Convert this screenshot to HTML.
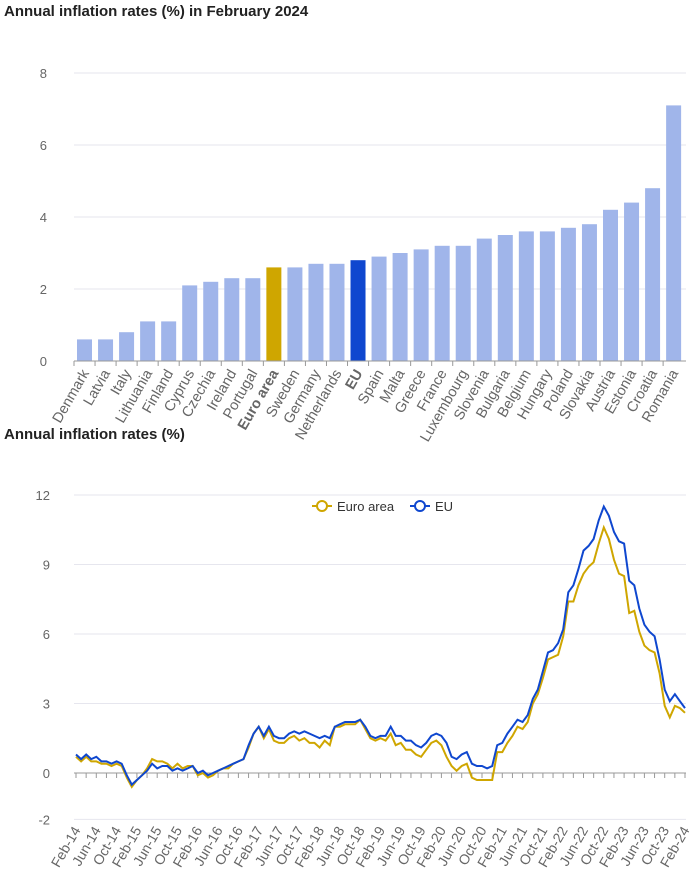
<!DOCTYPE html>
<html><head><meta charset="utf-8"><style>
body{margin:0;background:#fff;width:700px;height:874px;overflow:hidden;font-family:"Liberation Sans",Arial,sans-serif}
</style></head><body>
<svg id="s" width="700" height="874" xmlns="http://www.w3.org/2000/svg" font-family="Liberation Sans, Arial, sans-serif">
<text x="4" y="16" font-size="15" font-weight="bold" fill="#222">Annual inflation rates (%) in February 2024</text>
<text x="4" y="439" font-size="15" font-weight="bold" fill="#222">Annual inflation rates (%)</text>
</svg>
<script>
const s=document.getElementById('s');const NS='http://www.w3.org/2000/svg';
function el(t,a,txt){const e=document.createElementNS(NS,t);for(const k in a)e.setAttribute(k,a[k]);if(txt!==undefined)e.textContent=txt;s.appendChild(e);return e;}
const names=["Denmark","Latvia","Italy","Lithuania","Finland","Cyprus","Czechia","Ireland","Portugal","Euro area","Sweden","Germany","Netherlands","EU","Spain","Malta","Greece","France","Luxembourg","Slovenia","Bulgaria","Belgium","Hungary","Poland","Slovakia","Austria","Estonia","Croatia","Romania"];
const vals=[0.6,0.6,0.8,1.1,1.1,2.1,2.2,2.3,2.3,2.6,2.6,2.7,2.7,2.8,2.9,3.0,3.1,3.2,3.2,3.4,3.5,3.6,3.6,3.7,3.8,4.2,4.4,4.8,7.1];
const y0=361,k=36;
for(let v=0;v<=8;v+=2){const y=y0-v*k;
 if(v>0)el('line',{x1:74,x2:686,y1:y,y2:y,stroke:'#e6e6ee','stroke-width':1});
 el('text',{x:47,y:y+5,'font-size':13,fill:'#666','text-anchor':'end'},v);}
vals.forEach((v,i)=>{const cx=84.5+i*21.04;
 const c=names[i]=="Euro area"?'#cfa600':names[i]=="EU"?'#0f47cf':'#a0b5ea';
 el('rect',{x:cx-7.5,y:y0-v*k,width:15,height:v*k,fill:c});
 el('line',{x1:cx-10.5,x2:cx-10.5,y1:y0,y2:y0+5,stroke:'#999'});
 const b=(names[i]=="Euro area"||names[i]=="EU");
 el('text',{x:cx+5,y:y0+12,'font-size':14.5,fill:'#666','font-weight':b?'bold':'normal','text-anchor':'end',transform:`rotate(-60 ${cx+5} ${y0+12})`},names[i]);
});
el('line',{x1:74,x2:686,y1:y0,y2:y0,stroke:'#999','stroke-width':1});
const Z=773,u=23.17,X0=76,dx=609/120;
[-2,0,3,6,9,12].forEach(v=>{const y=Z-v*u;
 if(v!==0)el('line',{x1:74,x2:686,y1:y,y2:y,stroke:'#e6e6ee'});
 el('text',{x:50,y:y+5,'font-size':13,fill:'#666','text-anchor':'end'},v);});
el('line',{x1:74,x2:686,y1:Z,y2:Z,stroke:'#999'});
for(let m=0;m<=120;m+=2){const x=X0+m*dx;el('line',{x1:x,x2:x,y1:Z,y2:Z+5,stroke:'#999'});}
const mn=["Feb","Jun","Oct"];
for(let m=0;m<=120;m+=4){const x=X0+m*dx;const yr=14+Math.floor((m+1)/12);
 el('text',{x:x+5,y:Z+57,'font-size':14,fill:'#666','text-anchor':'end',transform:`rotate(-60 ${x+5} ${Z+57})`},mn[(m/4)%3]+"-"+yr);}
const ea=[0.7,0.5,0.7,0.5,0.5,0.4,0.4,0.3,0.4,0.3,-0.2,-0.6,-0.3,-0.1,0.2,0.6,0.5,0.5,0.4,0.2,0.4,0.2,0.3,0.3,-0.1,0.0,-0.2,-0.1,0.1,0.2,0.2,0.4,0.5,0.6,1.1,1.7,2.0,1.5,1.9,1.4,1.3,1.3,1.5,1.6,1.4,1.5,1.3,1.3,1.1,1.4,1.2,2.0,2.0,2.1,2.1,2.1,2.3,1.9,1.5,1.4,1.5,1.4,1.7,1.2,1.3,1.0,1.0,0.8,0.7,1.0,1.3,1.4,1.2,0.7,0.3,0.1,0.3,0.4,-0.2,-0.3,-0.3,-0.3,-0.3,0.9,0.9,1.3,1.6,2.0,1.9,2.2,3.0,3.4,4.1,4.9,5.0,5.1,5.9,7.4,7.4,8.1,8.6,8.9,9.1,9.9,10.6,10.1,9.2,8.6,8.5,6.9,7.0,6.1,5.5,5.3,5.2,4.3,2.9,2.4,2.9,2.8,2.6];
const eu=[0.8,0.6,0.8,0.6,0.7,0.5,0.5,0.4,0.5,0.4,-0.1,-0.5,-0.3,-0.1,0.1,0.4,0.2,0.3,0.3,0.1,0.2,0.1,0.2,0.3,0.0,0.1,-0.1,0.0,0.1,0.2,0.3,0.4,0.5,0.6,1.2,1.7,2.0,1.6,2.0,1.6,1.5,1.5,1.7,1.8,1.7,1.8,1.7,1.6,1.5,1.6,1.5,2.0,2.1,2.2,2.2,2.2,2.3,2.0,1.6,1.5,1.6,1.6,2.0,1.6,1.6,1.4,1.4,1.2,1.1,1.3,1.6,1.7,1.6,1.3,0.7,0.6,0.8,0.9,0.4,0.3,0.3,0.2,0.3,1.2,1.3,1.7,2.0,2.3,2.2,2.5,3.2,3.6,4.4,5.2,5.3,5.6,6.2,7.8,8.1,8.8,9.6,9.8,10.1,10.9,11.5,11.1,10.4,10.0,9.9,8.3,8.1,7.1,6.4,6.1,5.9,4.9,3.6,3.1,3.4,3.1,2.8];
function pts(a){return a.map((v,i)=>(X0+i*dx).toFixed(1)+','+(Z-v*u).toFixed(1)).join(' ');}
el('polyline',{points:pts(ea),fill:'none',stroke:'#cfa600','stroke-width':2});
el('polyline',{points:pts(eu),fill:'none',stroke:'#0f47cf','stroke-width':2});
el('line',{x1:312,x2:332,y1:506,y2:506,stroke:'#cfa600','stroke-width':2});
el('circle',{cx:322,cy:506,r:5,fill:'#fff',stroke:'#cfa600','stroke-width':2});
el('text',{x:337,y:511,'font-size':13,fill:'#333'},'Euro area');
el('line',{x1:410,x2:430,y1:506,y2:506,stroke:'#0f47cf','stroke-width':2});
el('circle',{cx:420,cy:506,r:5,fill:'#fff',stroke:'#0f47cf','stroke-width':2});
el('text',{x:435,y:511,'font-size':13,fill:'#333'},'EU');
</script>
</body></html>
